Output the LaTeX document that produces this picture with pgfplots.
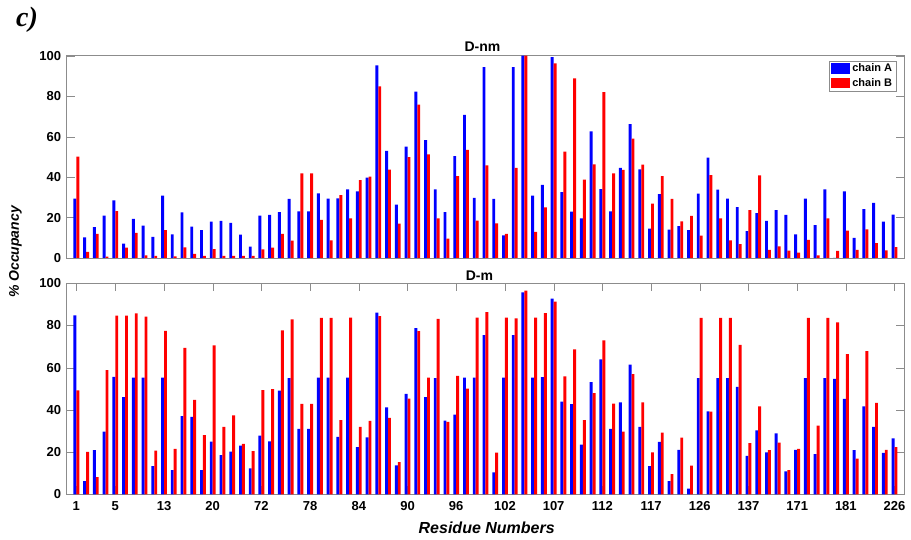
\documentclass[border=0pt]{standalone}
\usepackage{pgfplots}
\pgfplotsset{compat=1.18}
\usepackage{pgfplotstable}
\usepackage{fontspec}
\setmainfont{Liberation Sans}
\newfontfamily\serifc{Liberation Serif}

% occupancy per residue, k = position on the axis, a = chain A, b = chain B
\pgfplotstableread{
k a b
1 29.3 50.1
2 10.2 3.0
3 15.2 11.9
4 20.9 0.7
5 28.5 23.2
6 7.1 5.1
7 19.3 12.4
8 16.0 1.3
9 10.4 1.0
10 30.8 13.8
11 11.7 0.8
12 22.6 5.3
13 15.5 2.0
14 13.8 1.0
15 18.0 4.4
16 18.3 1.0
17 17.3 1.0
18 11.5 1.0
19 5.6 1.0
20 20.9 4.3
21 21.3 5.1
22 22.7 11.9
23 29.2 8.6
24 23.1 41.8
25 23.1 41.8
26 32.0 18.8
27 29.3 8.7
28 29.5 31.1
29 33.9 19.6
30 32.9 38.5
31 39.7 40.2
32 95.2 84.8
33 53.0 43.7
34 26.4 17.0
35 55.0 49.8
36 82.2 75.8
37 58.3 51.2
38 33.9 19.6
39 22.7 9.6
40 50.4 40.5
41 70.8 53.4
42 29.7 18.5
43 94.4 45.8
44 29.2 17.1
45 11.2 11.9
46 94.4 44.6
47 100 100
48 30.8 12.9
49 36.1 25.0
50 99.3 96.2
51 32.5 52.6
52 22.9 88.8
53 19.6 38.7
54 62.6 46.3
55 34.1 82.0
56 23.1 41.8
57 44.5 43.5
58 66.2 59.0
59 43.8 46.1
60 14.5 26.9
61 31.6 40.5
62 14.0 29.2
63 15.8 18.1
64 13.8 20.8
65 31.8 11.0
66 49.6 41.0
67 33.8 19.6
68 29.3 8.7
69 25.2 6.9
70 13.3 23.6
71 22.2 40.9
72 18.3 4.0
73 23.6 5.8
74 21.3 3.6
75 11.7 2.6
76 29.3 8.9
77 16.3 1.3
78 33.9 19.6
79 0 3.5
80 32.9 13.5
81 9.9 4.0
82 24.2 14.2
83 27.3 7.4
84 18.0 3.8
85 21.4 5.4
}\dnm

\pgfplotstableread{
k a b
1 84.8 49.3
2 6.2 20.1
3 20.9 8.1
4 29.7 58.9
5 55.6 84.7
6 46.0 84.7
7 55.3 85.8
8 55.3 84.2
9 13.3 20.7
10 55.3 77.4
11 11.5 21.5
12 37.1 69.4
13 36.7 44.7
14 11.5 28.1
15 25.0 70.6
16 18.6 31.9
17 20.2 37.4
18 23.1 23.9
19 12.3 20.5
20 27.8 49.4
21 25.1 49.9
22 49.1 77.7
23 55.1 82.9
24 31.0 42.8
25 31.0 42.8
26 55.3 83.6
27 55.3 83.6
28 27.2 35.1
29 55.3 83.7
30 22.4 31.9
31 27.0 34.8
32 86.1 84.4
33 41.2 36.2
34 13.7 15.2
35 47.6 45.3
36 78.7 77.3
37 46.0 55.3
38 55.0 83.1
39 34.9 34.3
40 37.8 56.1
41 55.3 50.1
42 55.3 83.7
43 75.4 86.3
44 10.4 19.7
45 55.3 83.7
46 75.4 83.4
47 95.7 96.5
48 55.3 83.7
49 55.5 85.9
50 92.7 91.3
51 43.9 55.9
52 42.7 68.7
53 23.5 35.2
54 53.2 47.9
55 64.0 73.0
56 31.0 43.0
57 43.6 29.7
58 61.5 57.0
59 31.9 43.6
60 13.4 19.9
61 24.8 29.2
62 6.2 9.6
63 21.0 26.9
64 2.7 13.6
65 55.1 83.6
66 39.3 39.2
67 55.1 83.6
68 55.1 83.6
69 50.9 70.8
70 18.2 24.2
71 30.3 41.7
72 19.9 20.9
73 28.9 24.5
74 10.9 11.4
75 21.0 21.5
76 55.1 83.6
77 19.0 32.5
78 55.1 83.6
79 54.7 81.5
80 45.2 66.4
81 20.9 16.9
82 41.7 67.8
83 31.9 43.3
84 19.6 21.0
85 26.5 22.3
}\dm

\pgfplotsset{
  panel/.style={
    scale only axis, width=837.7pt,
    xmin=0, xmax=86, ymin=0, ymax=100,
    ytick={0,20,...,100},
    axis line style={black!45}, tick style={black!45},
    major tick length=8pt,
    tick label style={font=\fontsize{13}{13}\selectfont\bfseries},
    /pgf/number format/assume math mode=true,
    yticklabel style={xshift=-2pt},
    title style={font=\fontsize{14}{14}\selectfont\bfseries, at={(0.5,1)}, anchor=base},
  },
  barA/.style={ybar, bar width=0.3, bar shift=-0.15, fill=blue, draw=none,
    legend image code/.code={\fill[##1] (0pt,-5.3pt) rectangle (19pt,5.3pt);}},
  barB/.style={ybar, bar width=0.3, bar shift=0.15, fill=red, draw=none,
    legend image code/.code={\fill[##1] (0pt,-5.3pt) rectangle (19pt,5.3pt);}},
}

\begin{document}
\begin{tikzpicture}[x=1pt,y=1pt]
\useasboundingbox (0,0) rectangle (911,540);

\begin{axis}[panel, at={(66.6pt,282pt)}, height=202.3pt,
  xtick=\empty,
  title={D-nm}, title style={yshift=-2pt, xshift=-3pt},
  legend style={at={(1,1)}, anchor=north east, xshift=-8pt, yshift=-5pt,
    draw=black!45, font=\fontsize{11}{11}\selectfont\bfseries,
    inner xsep=2pt, inner ysep=1pt, row sep=1pt},
  legend cell align=left,
]
\addplot[barA] table[x=k,y=a]{\dnm};
\addplot[barB] table[x=k,y=b]{\dnm};
\legend{chain A, chain B}
\end{axis}

\begin{axis}[panel, at={(66.6pt,45.7pt)}, height=211pt,
  xtick={1,5,10,...,85},
  xticklabels={1,5,13,20,72,78,84,90,96,102,107,112,117,126,137,171,181,226},
  xticklabel style={yshift=-4pt},
  title={D-m}, title style={yshift=-3.5pt, xshift=-6pt},
]
\addplot[barA] table[x=k,y=a]{\dm};
\addplot[barB] table[x=k,y=b]{\dm};
\end{axis}

\node[rotate=90, font=\fontsize{14}{14}\selectfont\bfseries\itshape] at (15.5,288) {\% Occupancy};
\node[font=\fontsize{16}{16}\selectfont\bfseries\itshape] at (486.7,12.5) {Residue Numbers};
\node[font=\serifc\fontsize{28}{28}\selectfont\bfseries\itshape] at (27,520) {c)};
\end{tikzpicture}
\end{document}
